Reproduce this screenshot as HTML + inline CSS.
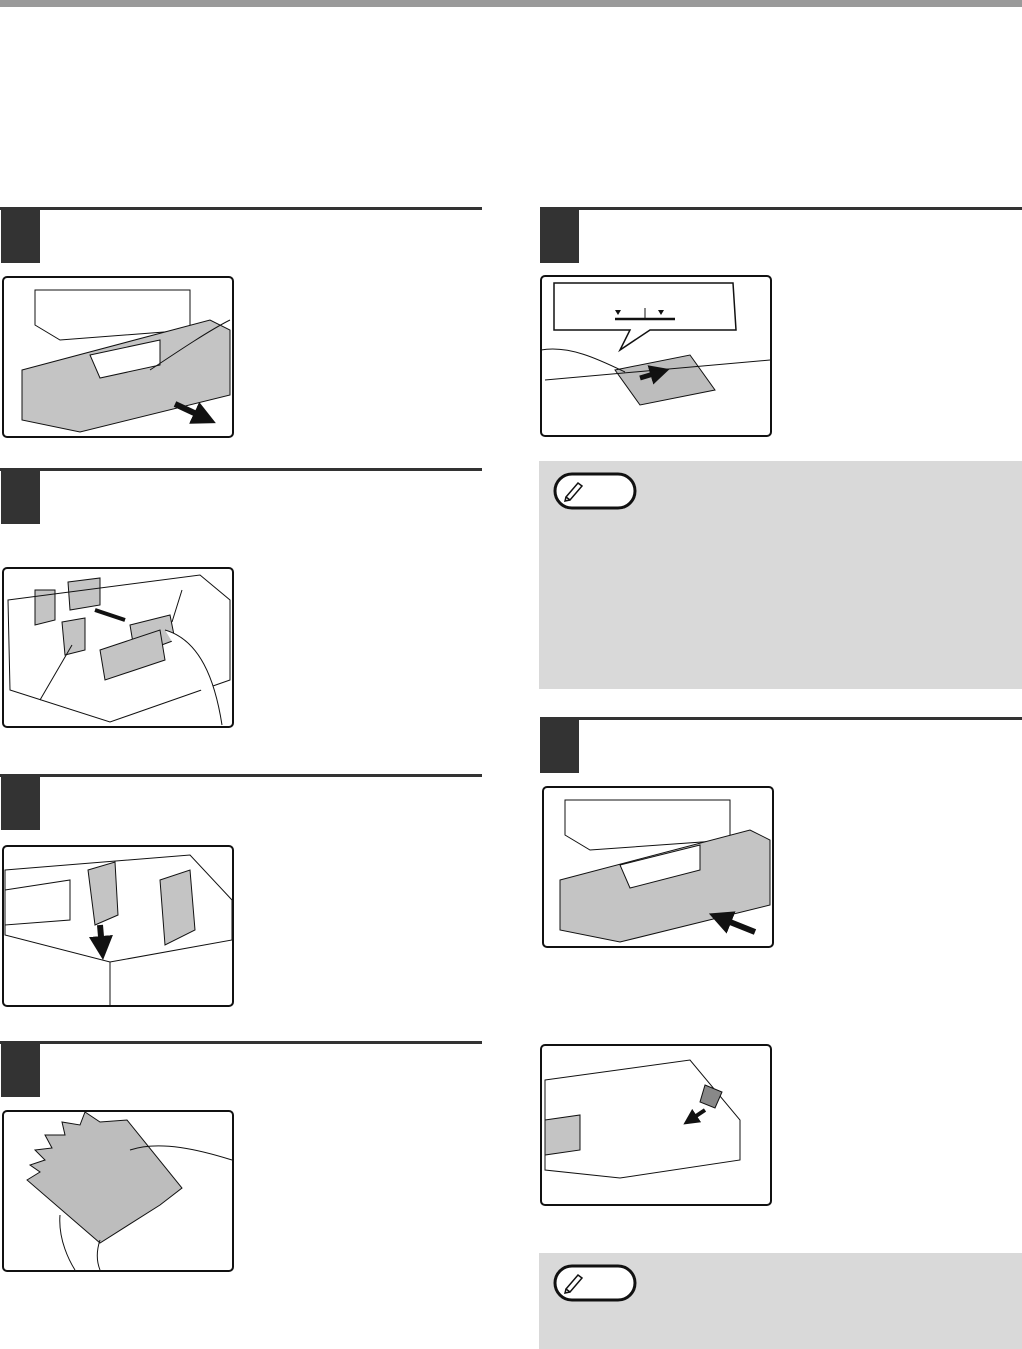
<!DOCTYPE html>
<html><head><meta charset="utf-8"><style>
html,body{margin:0;padding:0;background:#fff;}
body{width:1022px;height:1349px;position:relative;overflow:hidden;font-family:"Liberation Sans",sans-serif;}
</style></head><body>
<svg width="1022" height="1349" viewBox="0 0 1022 1349" xmlns="http://www.w3.org/2000/svg" style="position:absolute;left:0;top:0">
<defs>
<marker id="ah" markerWidth="4" markerHeight="4" refX="2" refY="2" orient="auto"><path d="M0,0 L4,2 L0,4z" fill="#111"/></marker>
</defs>
<rect x="0" y="0" width="1022" height="7" fill="#9a9a9a"/>
<g fill="#333">
<rect x="0" y="207" width="482" height="3"/><rect x="1" y="207" width="39" height="56"/>
<rect x="0" y="468" width="482" height="3"/><rect x="1" y="468" width="39" height="56"/>
<rect x="0" y="774" width="482" height="3"/><rect x="1" y="774" width="39" height="56"/>
<rect x="0" y="1041" width="482" height="3"/><rect x="1" y="1041" width="39" height="56"/>
<rect x="540" y="207" width="482" height="3"/><rect x="540" y="207" width="39" height="56"/>
<rect x="540" y="717" width="482" height="3"/><rect x="540" y="717" width="39" height="56"/>
</g>
<rect x="539" y="461" width="483" height="228" fill="#d9d9d9"/>
<rect x="539" y="1253" width="483" height="96" fill="#d9d9d9"/>
<g fill="#fff" stroke="#111" stroke-width="3">
<rect x="555" y="474" width="80" height="34" rx="17"/>
<rect x="555" y="1266" width="80" height="34" rx="17"/>
</g>
<g stroke="#111" stroke-width="1.5" fill="none">
<path d="M566,497 l12,-14 l4,3 l-12,14 z M566,497 l-1,4 l5,-1"/>
<path d="M566,1289 l12,-14 l4,3 l-12,14 z M566,1289 l-1,4 l5,-1"/>
</g>
<!-- image 1 -->
<g stroke="#111" stroke-width="1" fill="none">
<path d="M35,290 L190,290 L190,330 L60,340 L35,325z"/>
<path d="M22,370 L210,320 L230,330 L230,395 L80,432 L22,420z" fill="#c4c4c4"/>
<path d="M90,355 L160,340 L160,365 L100,378z" fill="#fff"/>
<path d="M150,370 C180,350 210,330 230,320" />
</g>
<path d="M175,404 L205,418" stroke="#111" stroke-width="6" marker-end="url(#ah)"/>
<rect x="3" y="277" width="230" height="160" rx="4" fill="none" stroke="#111" stroke-width="2"/>
<!-- image 2 -->
<g stroke="#111" stroke-width="1" fill="#c4c4c4">
<path d="M35,590 L55,590 L55,620 L35,625z"/>
<path d="M68,582 L100,578 L100,605 L70,610z"/>
<path d="M62,622 L85,618 L85,650 L65,655z"/>
<path d="M130,625 L170,615 L175,640 L135,655z"/>
<path d="M100,650 L160,630 L165,660 L105,680z"/>
</g>
<path d="M95,610 L125,620" stroke="#111" stroke-width="4"/>
<path d="M8,600 L200,575 L230,600 L230,680 L110,722 L10,690z" fill="none" stroke="#111"/>
<path d="M165,630 C200,640 215,680 222,725" fill="#fff" stroke="#111"/>
<path d="M72,645 L40,700 M182,590 L172,622" stroke="#111" fill="none"/>
<rect x="3" y="568" width="230" height="159" rx="4" fill="none" stroke="#111" stroke-width="2"/>
<!-- image 3 -->
<g stroke="#111" stroke-width="1" fill="none">
<path d="M5,870 L190,855 L232,900 L232,940 L110,962 L5,935z"/>
<path d="M110,962 L110,1005"/>
<path d="M88,870 L115,862 L118,915 L95,925z" fill="#c4c4c4"/>
<path d="M160,880 L190,870 L195,930 L165,945z" fill="#c4c4c4"/>
<path d="M5,890 L70,880 L70,920 L5,925z"/>
</g>
<path d="M100,925 L102,948" stroke="#111" stroke-width="6" marker-end="url(#ah)"/>
<rect x="3" y="846" width="230" height="160" rx="4" fill="none" stroke="#111" stroke-width="2"/>
<!-- image 4 -->
<path d="M27,1180 L40,1172 L30,1165 L45,1160 L35,1150 L52,1148 L45,1135 L65,1135 L62,1122 L80,1125 L85,1112 L100,1122 L127,1120 L182,1188 L160,1205 L100,1243z" fill="#bdbdbd" stroke="#111"/>
<path d="M130,1150 C160,1140 200,1150 232,1160 M60,1215 C58,1240 70,1262 75,1270 M100,1240 C95,1255 98,1265 100,1270" fill="none" stroke="#111"/>
<rect x="3" y="1111" width="230" height="160" rx="4" fill="none" stroke="#111" stroke-width="2"/>
<!-- right image 1 -->
<path d="M554,283 L733,283 L736,330 L650,330 L620,350 L630,330 L554,330z" fill="#fff" stroke="#111" stroke-width="1.5"/>
<path d="M615,319 L675,319" stroke="#111" stroke-width="2.5"/>
<path d="M645,308 L645,319" stroke="#111"/>
<path d="M615,310 l6,0 l-3,5z M658,310 l6,0 l-3,5z" fill="#111"/>
<path d="M615,370 L690,355 L715,390 L640,405z" fill="#bdbdbd" stroke="#111"/>
<path d="M640,378 L660,372" stroke="#111" stroke-width="5" marker-end="url(#ah)"/>
<path d="M541,350 C570,345 600,360 625,372 M545,380 L770,360" fill="none" stroke="#111"/>
<rect x="541" y="276" width="230" height="160" rx="4" fill="none" stroke="#111" stroke-width="2"/>
<!-- right image 2 -->
<g stroke="#111" stroke-width="1" fill="none">
<path d="M565,800 L730,800 L730,840 L590,850 L565,835z"/>
<path d="M560,880 L750,830 L770,840 L770,905 L620,942 L560,930z" fill="#c4c4c4"/>
<path d="M620,865 L700,845 L700,870 L630,888z" fill="#fff"/>
</g>
<path d="M755,932 L720,918" stroke="#111" stroke-width="6" marker-end="url(#ah)"/>
<rect x="543" y="787" width="230" height="160" rx="4" fill="none" stroke="#111" stroke-width="2"/>
<!-- right image 3 -->
<g stroke="#111" stroke-width="1" fill="none">
<path d="M545,1080 L690,1060 L740,1120 L740,1160 L620,1178 L545,1170z"/>
<path d="M545,1120 L580,1115 L580,1150 L545,1155z" fill="#c4c4c4"/>
<path d="M705,1085 L722,1092 L715,1108 L700,1102z" fill="#888"/>
</g>
<path d="M705,1110 L690,1120" stroke="#111" stroke-width="4" marker-end="url(#ah)"/>
<rect x="541" y="1045" width="230" height="160" rx="4" fill="none" stroke="#111" stroke-width="2"/>
</svg>
</body></html>
